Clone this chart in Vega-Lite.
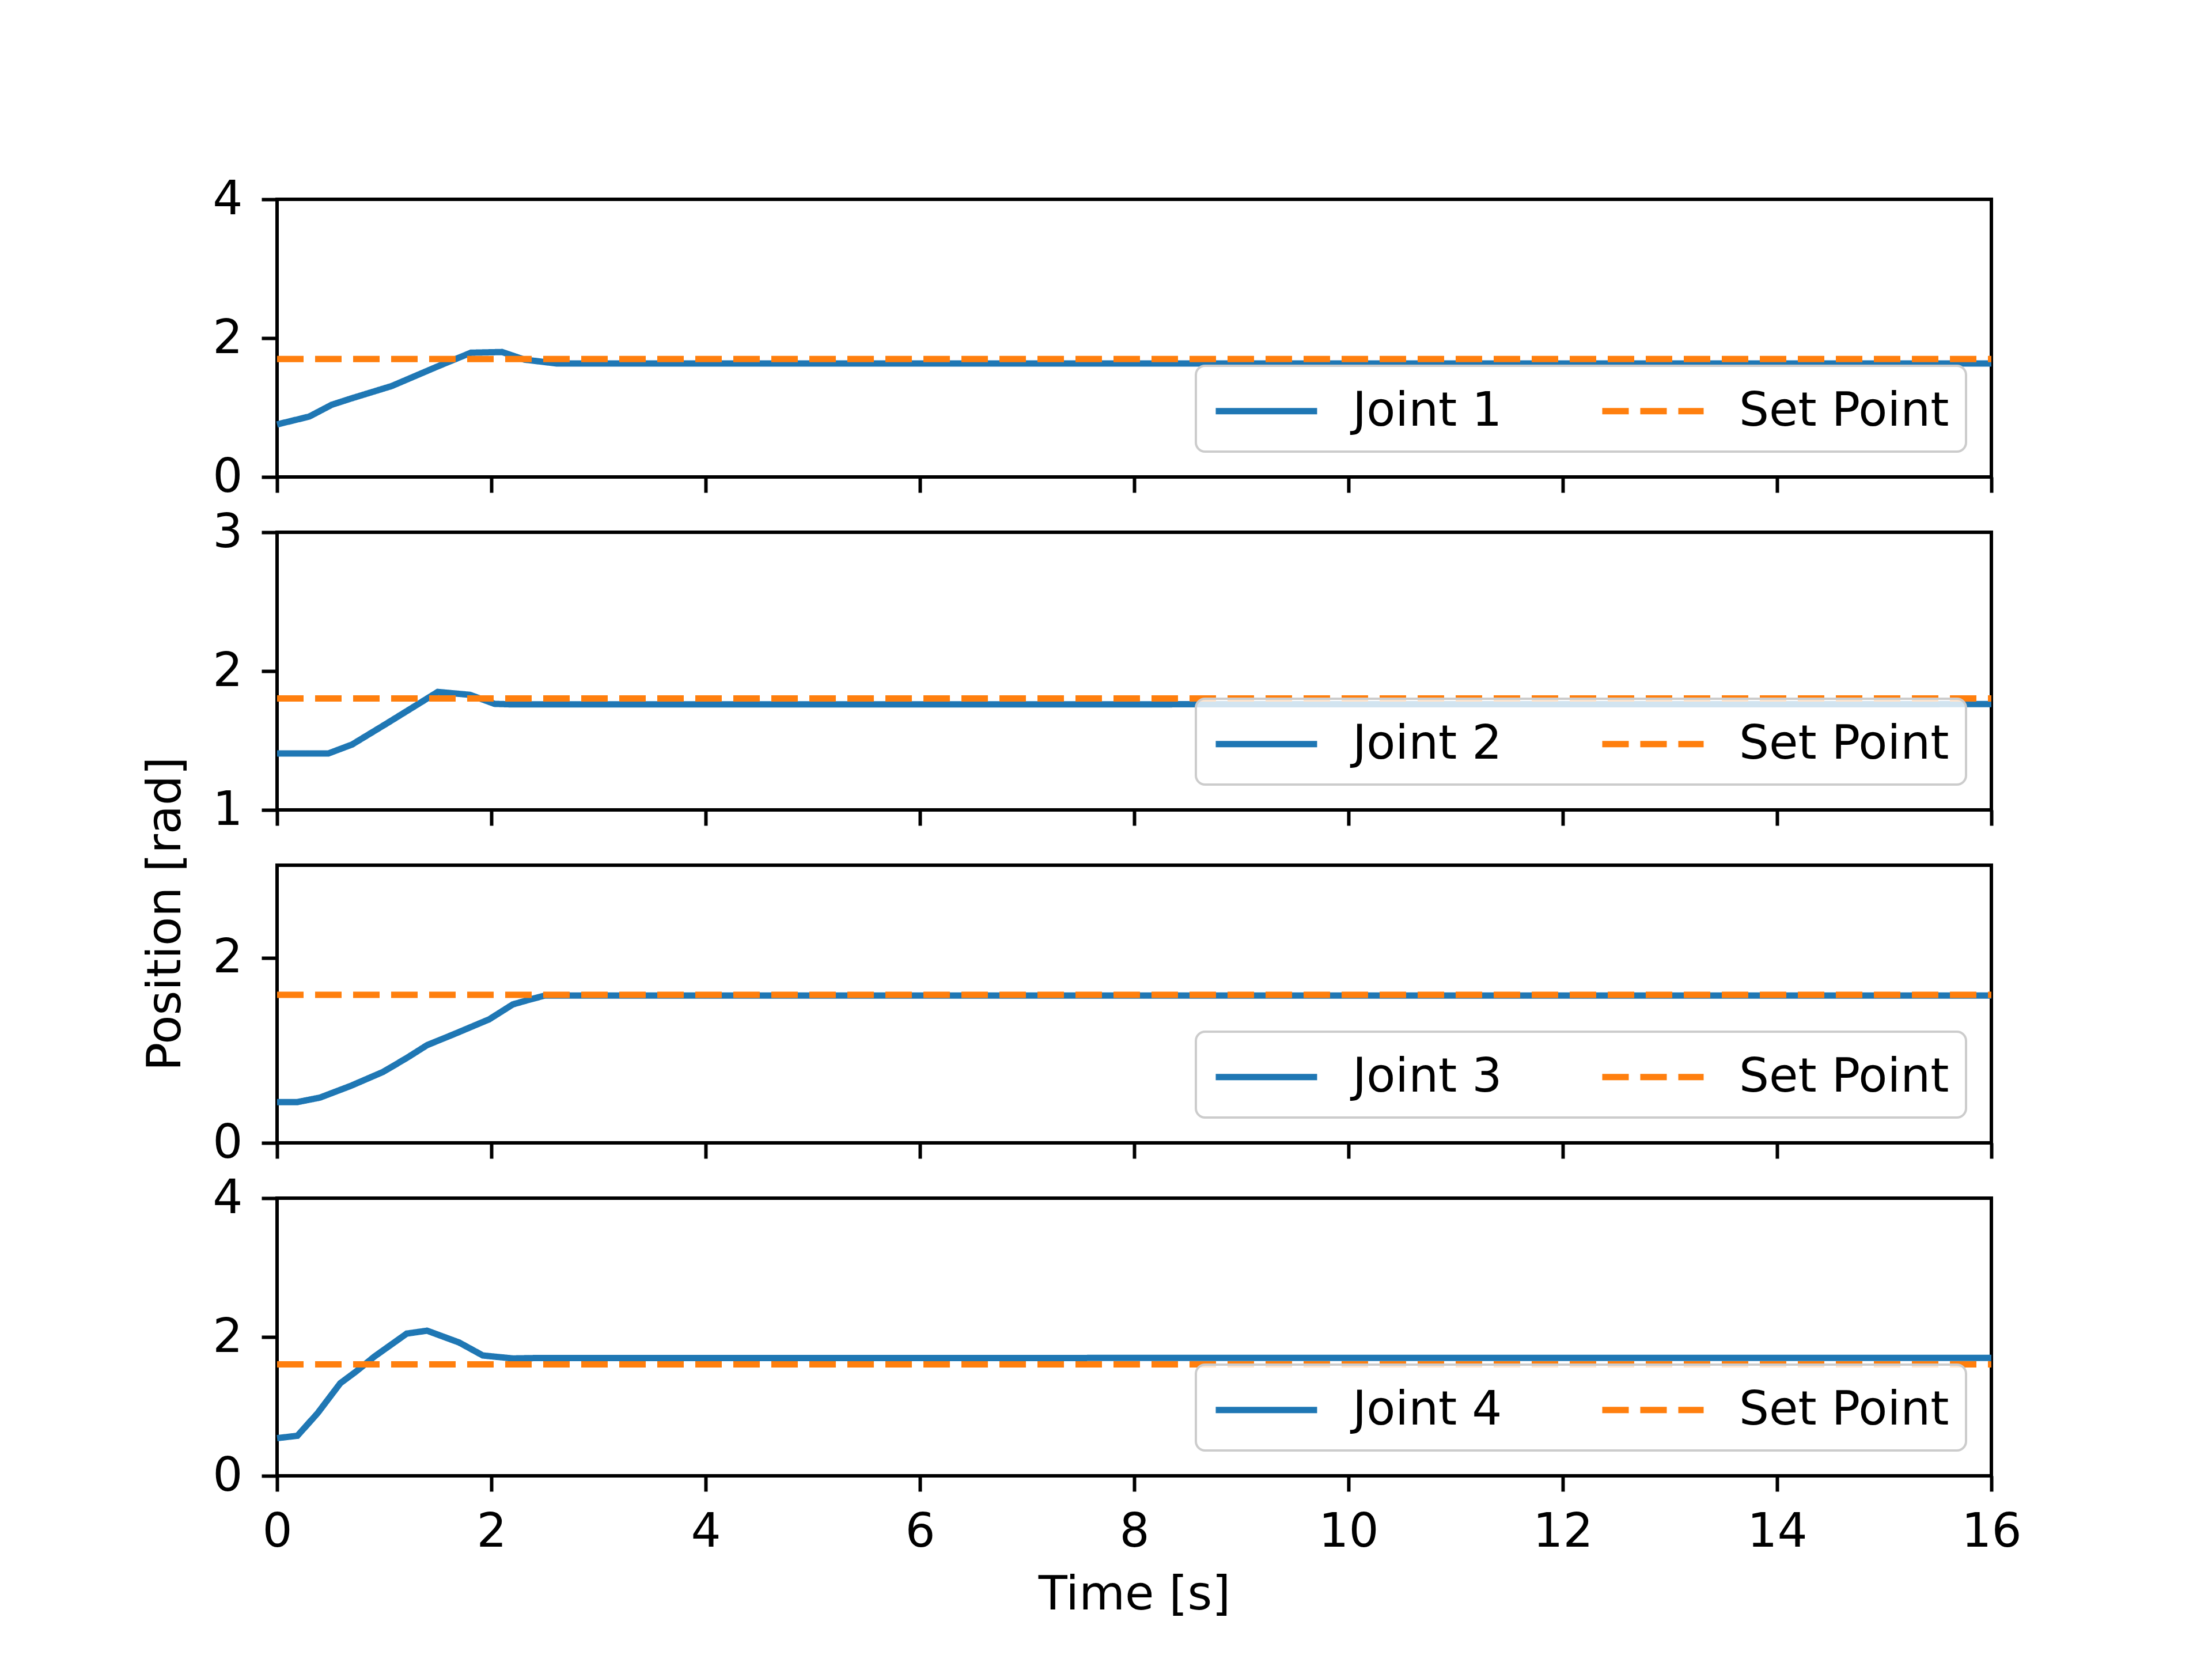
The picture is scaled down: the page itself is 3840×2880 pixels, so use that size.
{
  "$schema": "https://vega.github.io/schema/vega-lite/v6.json",
  "background": "white",
  "padding": {"left": 242, "top": 302, "right": 10, "bottom": 10},
  "config": {
    "font": "DejaVu Sans",
    "view": {"stroke": "black", "strokeWidth": 6},
    "axis": {
      "grid": false,
      "domain": false,
      "tickColor": "black",
      "tickWidth": 6,
      "tickSize": 27,
      "labelFontSize": 82,
      "labelColor": "black",
      "labelFont": "DejaVu Sans",
      "labelFlush": false,
      "labelOverlap": false,
      "titleFontSize": 82,
      "titleFont": "DejaVu Sans",
      "titleFontWeight": "normal",
      "titleColor": "black",
      "format": "d"
    },
    "axisX": {"labelPadding": 30, "titlePadding": 28},
    "axisY": {"labelPadding": 33},
    "legend": {
      "orient": "bottom-right",
      "offset": 44,
      "direction": "horizontal",
      "padding": 29,
      "fillColor": "rgba(255,255,255,0.8)",
      "strokeColor": "#cccccc",
      "strokeWidth": 4,
      "cornerRadius": 16,
      "labelFontSize": 82,
      "labelFont": "DejaVu Sans",
      "labelColor": "black",
      "labelLimit": 1000,
      "labelOffset": 144,
      "columnPadding": 151,
      "symbolType": "M-1,0L3,0",
      "symbolSize": 7744,
      "symbolStrokeWidth": 11
    }
  },
  "bounds": "flush",
  "spacing": 96,
  "resolve": {
    "scale": {"y": "independent", "color": "independent", "strokeDash": "independent"},
    "legend": {"color": "independent", "strokeDash": "independent"}
  },
  "vconcat": [
    {
      "width": 2976, "height": 482,
      "data": {"values": [
        {"t": 0, "v": 0.757, "series": "Joint 1"},
        {"t": 0.3, "v": 0.87, "series": "Joint 1"},
        {"t": 0.51, "v": 1.04, "series": "Joint 1"},
        {"t": 0.69, "v": 1.13, "series": "Joint 1"},
        {"t": 1.07, "v": 1.31, "series": "Joint 1"},
        {"t": 1.51, "v": 1.6, "series": "Joint 1"},
        {"t": 1.81, "v": 1.79, "series": "Joint 1"},
        {"t": 2.1, "v": 1.8, "series": "Joint 1"},
        {"t": 2.31, "v": 1.69, "series": "Joint 1"},
        {"t": 2.61, "v": 1.635, "series": "Joint 1"},
        {"t": 16, "v": 1.635, "series": "Joint 1"},
        {"t": 0, "v": 1.7, "series": "Set Point"},
        {"t": 16, "v": 1.7, "series": "Set Point"}
      ]},
      "mark": {"type": "line", "strokeWidth": 11},
      "encoding": {
        "x": {"field": "t", "type": "quantitative", "scale": {"domain": [0, 16], "nice": false},
              "axis": {"values": [0, 2, 4, 6, 8, 10, 12, 14, 16], "labels": false, "title": null}},
        "y": {"field": "v", "type": "quantitative", "scale": {"domain": [0, 4], "nice": false},
              "axis": {"values": [0, 2, 4], "title": null}},
        "color": {"field": "series", "type": "nominal",
                  "scale": {"domain": ["Joint 1", "Set Point"], "range": ["#1f77b4", "#ff7f0e"]},
                  "legend": {"title": null}},
        "strokeDash": {"field": "series", "type": "nominal",
                       "scale": {"domain": ["Joint 1", "Set Point"], "range": [[1, 0], [46, 20]]},
                       "legend": {"title": null}}
      }
    },
    {
      "width": 2976, "height": 482,
      "data": {"values": [
        {"t": 0, "v": 1.407, "series": "Joint 2"},
        {"t": 0.48, "v": 1.407, "series": "Joint 2"},
        {"t": 0.7, "v": 1.471, "series": "Joint 2"},
        {"t": 1.02, "v": 1.621, "series": "Joint 2"},
        {"t": 1.32, "v": 1.764, "series": "Joint 2"},
        {"t": 1.5, "v": 1.85, "series": "Joint 2"},
        {"t": 1.8, "v": 1.829, "series": "Joint 2"},
        {"t": 2.03, "v": 1.764, "series": "Joint 2"},
        {"t": 2.2, "v": 1.76, "series": "Joint 2"},
        {"t": 16, "v": 1.762, "series": "Joint 2"},
        {"t": 0, "v": 1.803, "series": "Set Point"},
        {"t": 16, "v": 1.803, "series": "Set Point"}
      ]},
      "mark": {"type": "line", "strokeWidth": 11},
      "encoding": {
        "x": {"field": "t", "type": "quantitative", "scale": {"domain": [0, 16], "nice": false},
              "axis": {"values": [0, 2, 4, 6, 8, 10, 12, 14, 16], "labels": false, "title": null}},
        "y": {"field": "v", "type": "quantitative", "scale": {"domain": [1, 3], "nice": false, "zero": false},
              "axis": {"values": [1, 2, 3], "title": null}},
        "color": {"field": "series", "type": "nominal",
                  "scale": {"domain": ["Joint 2", "Set Point"], "range": ["#1f77b4", "#ff7f0e"]},
                  "legend": {"title": null}},
        "strokeDash": {"field": "series", "type": "nominal",
                       "scale": {"domain": ["Joint 2", "Set Point"], "range": [[1, 0], [46, 20]]},
                       "legend": {"title": null}}
      }
    },
    {
      "width": 2976, "height": 482,
      "data": {"values": [
        {"t": 0, "v": 0.441, "series": "Joint 3"},
        {"t": 0.19, "v": 0.441, "series": "Joint 3"},
        {"t": 0.4, "v": 0.489, "series": "Joint 3"},
        {"t": 0.69, "v": 0.617, "series": "Joint 3"},
        {"t": 0.99, "v": 0.767, "series": "Joint 3"},
        {"t": 1.21, "v": 0.917, "series": "Joint 3"},
        {"t": 1.4, "v": 1.056, "series": "Joint 3"},
        {"t": 1.65, "v": 1.174, "series": "Joint 3"},
        {"t": 1.98, "v": 1.335, "series": "Joint 3"},
        {"t": 2.2, "v": 1.496, "series": "Joint 3"},
        {"t": 2.36, "v": 1.549, "series": "Joint 3"},
        {"t": 2.5, "v": 1.592, "series": "Joint 3"},
        {"t": 16, "v": 1.592, "series": "Joint 3"},
        {"t": 0, "v": 1.6, "series": "Set Point"},
        {"t": 16, "v": 1.6, "series": "Set Point"}
      ]},
      "mark": {"type": "line", "strokeWidth": 11},
      "encoding": {
        "x": {"field": "t", "type": "quantitative", "scale": {"domain": [0, 16], "nice": false},
              "axis": {"values": [0, 2, 4, 6, 8, 10, 12, 14, 16], "labels": false, "title": null}},
        "y": {"field": "v", "type": "quantitative", "scale": {"domain": [0, 3], "nice": false},
              "axis": {"values": [0, 2], "title": "Position [rad]", "titleX": -169, "titleY": 84,
                       "titleAngle": -90, "titleAlign": "center", "titleBaseline": "alphabetic"}},
        "color": {"field": "series", "type": "nominal",
                  "scale": {"domain": ["Joint 3", "Set Point"], "range": ["#1f77b4", "#ff7f0e"]},
                  "legend": {"title": null}},
        "strokeDash": {"field": "series", "type": "nominal",
                       "scale": {"domain": ["Joint 3", "Set Point"], "range": [[1, 0], [46, 20]]},
                       "legend": {"title": null}}
      }
    },
    {
      "width": 2976, "height": 482,
      "data": {"values": [
        {"t": 0, "v": 0.543, "series": "Joint 4"},
        {"t": 0.19, "v": 0.577, "series": "Joint 4"},
        {"t": 0.38, "v": 0.906, "series": "Joint 4"},
        {"t": 0.59, "v": 1.334, "series": "Joint 4"},
        {"t": 0.74, "v": 1.506, "series": "Joint 4"},
        {"t": 0.91, "v": 1.72, "series": "Joint 4"},
        {"t": 1.21, "v": 2.049, "series": "Joint 4"},
        {"t": 1.4, "v": 2.091, "series": "Joint 4"},
        {"t": 1.7, "v": 1.92, "series": "Joint 4"},
        {"t": 1.92, "v": 1.734, "series": "Joint 4"},
        {"t": 2.2, "v": 1.691, "series": "Joint 4"},
        {"t": 2.42, "v": 1.697, "series": "Joint 4"},
        {"t": 16, "v": 1.7, "series": "Joint 4"},
        {"t": 0, "v": 1.606, "series": "Set Point"},
        {"t": 16, "v": 1.606, "series": "Set Point"}
      ]},
      "mark": {"type": "line", "strokeWidth": 11},
      "encoding": {
        "x": {"field": "t", "type": "quantitative", "scale": {"domain": [0, 16], "nice": false},
              "axis": {"values": [0, 2, 4, 6, 8, 10, 12, 14, 16], "title": "Time [s]"}},
        "y": {"field": "v", "type": "quantitative", "scale": {"domain": [0, 4], "nice": false},
              "axis": {"values": [0, 2, 4], "title": null}},
        "color": {"field": "series", "type": "nominal",
                  "scale": {"domain": ["Joint 4", "Set Point"], "range": ["#1f77b4", "#ff7f0e"]},
                  "legend": {"title": null}},
        "strokeDash": {"field": "series", "type": "nominal",
                       "scale": {"domain": ["Joint 4", "Set Point"], "range": [[1, 0], [46, 20]]},
                       "legend": {"title": null}}
      }
    }
  ]
}
